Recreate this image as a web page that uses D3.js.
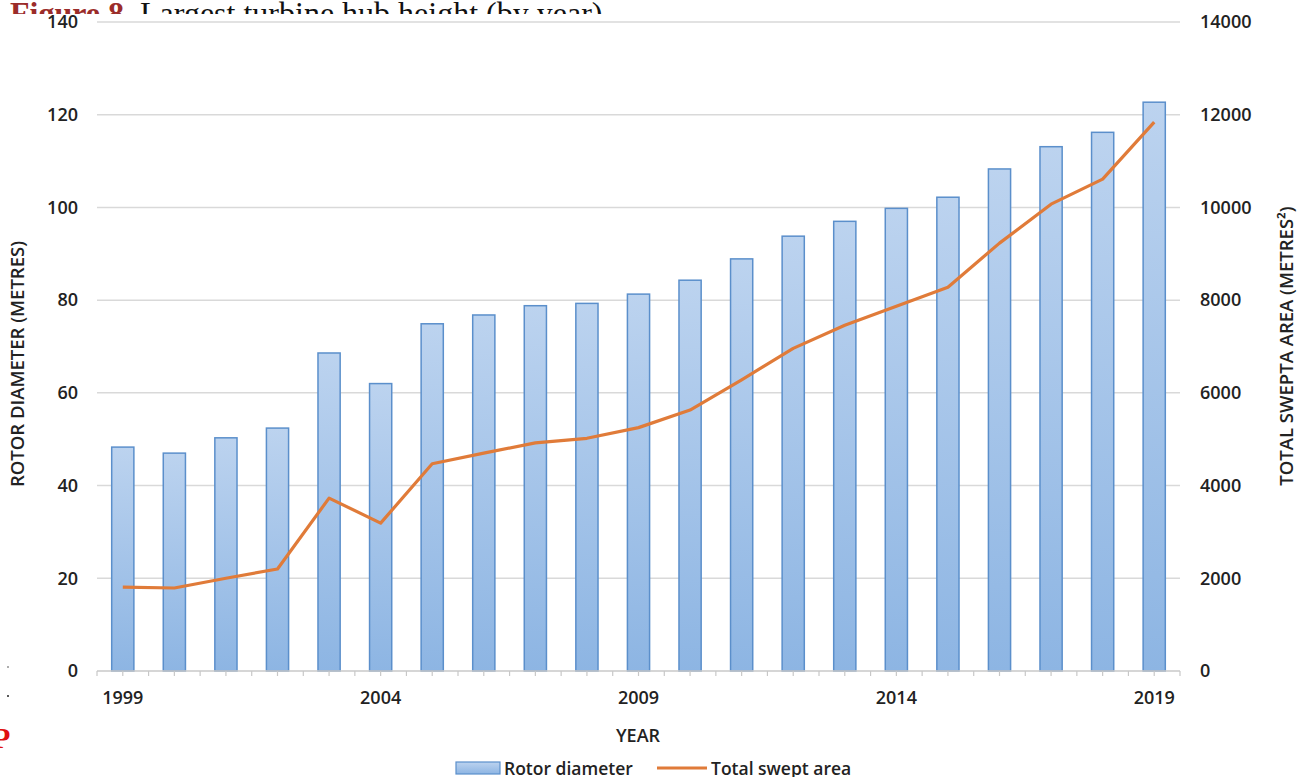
<!DOCTYPE html>
<html>
<head>
<meta charset="utf-8">
<script src="https://cdn.jsdelivr.net/npm/d3@7"></script>
<style>
  body { margin: 0; background: #fff; }
  svg { display: block; }
</style>
</head>
<body>
<svg></svg>
<script>
var years = d3.range(1999, 2020);
var rotorDiameter = [48.3, 47.0, 50.3, 52.4, 68.6, 62.0, 74.9, 76.8, 78.8, 79.3, 81.3,
                     84.3, 88.9, 93.8, 97.0, 99.8, 102.2, 108.3, 113.1, 116.2, 122.7];
var sweptArea = [1810, 1790, 2000, 2200, 3730, 3190, 4470, 4700, 4920, 5020, 5250,
                 5630, 6280, 6960, 7460, 7870, 8280, 9230, 10070, 10610, 11840];
var leftTicks = [0, 20, 40, 60, 80, 100, 120, 140];
var rightTicks = [0, 2000, 4000, 6000, 8000, 10000, 12000, 14000];
var yearLabels = [1999, 2004, 2009, 2014, 2019];

var width = 1303, height = 777;
var plotL = 97, plotR = 1180, plotT = 22, plotB = 671;
var font = "'Open Sans', sans-serif";

var svg = d3.select("svg").attr("width", width).attr("height", height);

var defs = svg.append("defs");
var grad = defs.append("linearGradient").attr("id", "barGrad")
    .attr("x1", 0).attr("y1", 0).attr("x2", 0).attr("y2", 1);
grad.append("stop").attr("offset", "0%").attr("stop-color", "#bcd3ef");
grad.append("stop").attr("offset", "100%").attr("stop-color", "#8db5e3");

// scanned page caption, cut off by the chart image
svg.append("text")
    .attr("x", 10).attr("y", 24)
    .style("font-family", "'Liberation Serif', 'Times New Roman', serif")
    .style("font-size", "32px")
    .call(function(t) {
      t.append("tspan").attr("fill", "#9b2c2a").style("font-weight", "bold").text("Figure 8");
      t.append("tspan").attr("fill", "#111").text(". Largest turbine hub height (by year)");
    });
svg.append("rect").attr("x", 0).attr("y", 14).attr("width", width).attr("height", height)
    .attr("fill", "#fff");
svg.append("text").attr("x", -8).attr("y", 748)
    .style("font-family", "'Liberation Serif', serif").style("font-size", "30px")
    .style("font-weight", "bold").attr("fill", "#e01010").text("P");
svg.append("circle").attr("cx", 8).attr("cy", 667).attr("r", 0.8).attr("fill", "#444");
svg.append("circle").attr("cx", 8).attr("cy", 696).attr("r", 1).attr("fill", "#222");

var x = d3.scaleBand().domain(years).range([plotL, plotR]).paddingInner(0.57).paddingOuter(0.285);
var xb = d3.scaleBand().domain(years).range([plotL, plotR]);
var y = d3.scaleLinear().domain([0, 140]).range([plotB, plotT]);
var y2 = d3.scaleLinear().domain([0, 14000]).range([plotB, plotT]);

// gridlines
svg.append("g")
  .selectAll("line").data(leftTicks.slice(1)).enter().append("line")
    .attr("x1", plotL).attr("x2", plotR)
    .attr("y1", function(d) { return y(d); }).attr("y2", function(d) { return y(d); })
    .attr("stroke", "#d9d9d9").attr("stroke-width", 1.5);

// left axis labels
var yAxis = svg.append("g")
    .attr("transform", "translate(" + (plotL - 19) + ",0)")
    .call(d3.axisLeft(y).tickValues(leftTicks).tickSize(0).tickPadding(0));
yAxis.select(".domain").remove();

var yAxis2 = svg.append("g")
    .attr("transform", "translate(" + (plotR + 20) + ",0)")
    .call(d3.axisRight(y2).tickValues(rightTicks).tickSize(0).tickPadding(0).tickFormat(d3.format("d")));
yAxis2.select(".domain").remove();

svg.selectAll(".tick text")
    .style("font-family", font).style("font-size", "18px")
    .style("font-weight", "600").attr("fill", "#222");

// bars
svg.append("g").selectAll("rect").data(rotorDiameter).enter().append("rect")
    .attr("x", function(d, i) { return x(years[i]); })
    .attr("y", function(d) { return y(d); })
    .attr("width", x.bandwidth())
    .attr("height", function(d) { return plotB - y(d); })
    .attr("fill", "url(#barGrad)")
    .attr("stroke", "#5b8fcb").attr("stroke-width", 1.5);

// x axis
var xAxis = svg.append("g").attr("transform", "translate(0," + plotB + ")");
xAxis.append("line").attr("x1", plotL).attr("x2", plotR)
    .attr("stroke", "#c8c8c8").attr("stroke-width", 1.5);
var halfTicks = [];
years.forEach(function(yr) {
  halfTicks.push(xb(yr));
  halfTicks.push(xb(yr) + xb.bandwidth() / 2);
});
halfTicks.push(plotR);
xAxis.selectAll(".t").data(halfTicks).enter().append("line")
    .attr("x1", function(d) { return d; }).attr("x2", function(d) { return d; })
    .attr("y1", 0).attr("y2", 5).attr("stroke", "#c8c8c8").attr("stroke-width", 1.2);
xAxis.selectAll("text").data(yearLabels).enter().append("text")
    .attr("x", function(d) { return x(d) + x.bandwidth() / 2; })
    .attr("y", 33).attr("text-anchor", "middle")
    .style("font-family", font).style("font-size", "18px").style("font-weight", "600")
    .attr("fill", "#222").text(function(d) { return d; });

// line
var line = d3.line()
    .x(function(d, i) { return x(years[i]) + x.bandwidth() / 2; })
    .y(function(d) { return y2(d); });
svg.append("path").datum(sweptArea)
    .attr("d", line).attr("fill", "none")
    .attr("stroke", "#e07b39").attr("stroke-width", 3.2)
    .attr("stroke-linejoin", "round");

// axis titles
svg.append("text")
    .attr("transform", "translate(24,364) rotate(-90)")
    .attr("text-anchor", "middle")
    .style("font-family", font).style("font-size", "18.5px").style("font-weight", "600")
    .attr("fill", "#222").text("ROTOR DIAMETER (METRES)");
svg.append("text")
    .attr("transform", "translate(1293,346) rotate(-90)")
    .attr("text-anchor", "middle")
    .style("font-family", font).style("font-size", "18.5px").style("font-weight", "600")
    .attr("fill", "#222").text("TOTAL SWEPTA AREA (METRES²)");
svg.append("text")
    .attr("x", 638).attr("y", 742).attr("text-anchor", "middle")
    .style("font-family", font).style("font-size", "18px").style("font-weight", "600")
    .attr("fill", "#222").text("YEAR");

// legend
var leg = svg.append("g");
leg.append("rect").attr("x", 456).attr("y", 762).attr("width", 44).attr("height", 12)
    .attr("fill", "url(#barGrad)").attr("stroke", "#5b8fcb").attr("stroke-width", 1.2);
leg.append("text").attr("x", 504).attr("y", 775)
    .style("font-family", font).style("font-size", "17.5px").style("font-weight", "600")
    .attr("fill", "#222").text("Rotor diameter");
leg.append("line").attr("x1", 657).attr("x2", 707).attr("y1", 768).attr("y2", 768)
    .attr("stroke", "#e07b39").attr("stroke-width", 3);
leg.append("text").attr("x", 711).attr("y", 775)
    .style("font-family", font).style("font-size", "17.5px").style("font-weight", "600")
    .attr("fill", "#222").text("Total swept area");
</script>
</body>
</html>
